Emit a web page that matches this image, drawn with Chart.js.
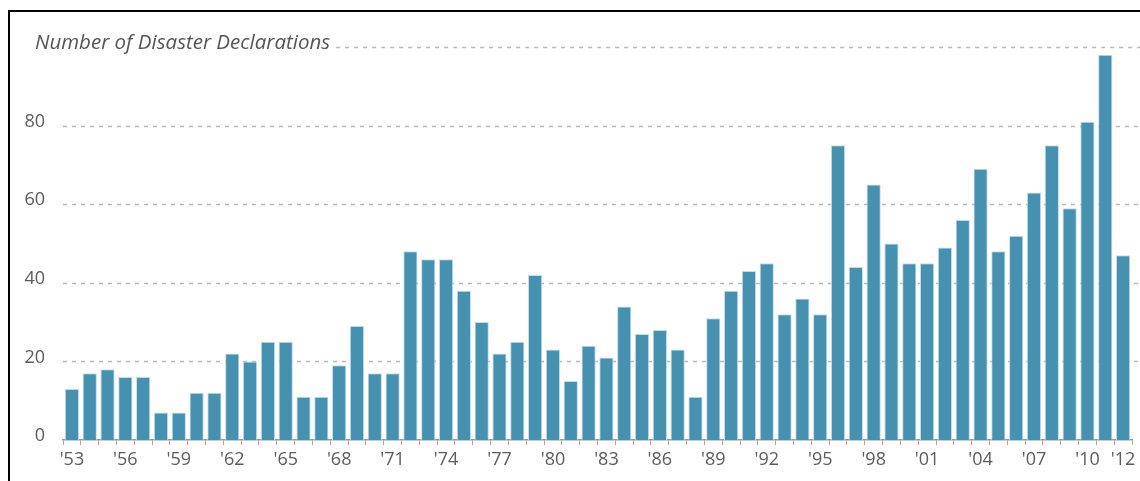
<!DOCTYPE html>
<html lang="en">
<head>
<meta charset="UTF-8">
<title>Number of Disaster Declarations</title>
<script src="https://cdn.jsdelivr.net/npm/chart.js@4.4.1/dist/chart.umd.min.js"></script>
<style>
    body {
        margin: 0;
        padding: 0;
        background: #fff;
    }
    .frame {
        position: absolute;
        left: 8px;
        top: 10px;
        right: 0;
        bottom: 0;
        border-left: 2px solid #000;
        border-top: 2px solid #000;
    }
    .wrap {
        position: absolute;
        left: 0;
        top: 0;
        width: 1140px;
        height: 481px;
    }
</style>
</head>
<body>
<div class="frame"></div>
<div class="wrap"><canvas id="chart" width="1140" height="481"></canvas></div>
<script>
// years 1953 - 2012
const years = [1953, 1954, 1955, 1956, 1957, 1958, 1959, 1960, 1961, 1962,
    1963, 1964, 1965, 1966, 1967, 1968, 1969, 1970, 1971, 1972,
    1973, 1974, 1975, 1976, 1977, 1978, 1979, 1980, 1981, 1982,
    1983, 1984, 1985, 1986, 1987, 1988, 1989, 1990, 1991, 1992,
    1993, 1994, 1995, 1996, 1997, 1998, 1999, 2000, 2001, 2002,
    2003, 2004, 2005, 2006, 2007, 2008, 2009, 2010, 2011, 2012];

const declarations = [13, 17, 18, 16, 16, 7, 7, 12, 12, 22,
    20, 25, 25, 11, 11, 19, 29, 17, 17, 48,
    46, 46, 38, 30, 22, 25, 42, 23, 15, 24,
    21, 34, 27, 28, 23, 11, 31, 38, 43, 45,
    32, 36, 32, 75, 44, 65, 50, 45, 45, 49,
    56, 69, 48, 52, 63, 75, 59, 81, 98, 47];

// years that get a label under the axis
const labelledYears = [1953, 1956, 1959, 1962, 1965, 1968, 1971, 1974, 1977, 1980,
    1983, 1986, 1989, 1992, 1995, 1998, 2001, 2004, 2007, 2010, 2012];

const yTicks = [0, 20, 40, 60, 80, 100];
const yTitle = 'Number of Disaster Declarations';

const tickFont = { family: "'Open Sans', sans-serif", size: 18, weight: '400' };

// dashed grid lines run to the right edge, the top one starts after the title
const gridAndTitle = {
    id: 'gridAndTitle',
    beforeDatasetsDraw(chart) {
        const ctx = chart.ctx;
        const y = chart.scales.y;
        const left = chart.chartArea.left;

        // title, sized to the original width
        ctx.save();
        let size = 19;
        ctx.font = "italic 400 " + size + "px 'Open Sans', sans-serif";
        const w = ctx.measureText(yTitle).width;
        size = size * 295 / w;
        ctx.font = "italic 400 " + size.toFixed(1) + "px 'Open Sans', sans-serif";
        ctx.fillStyle = '#555';
        ctx.textBaseline = 'alphabetic';
        const topY = y.getPixelForValue(100);
        ctx.fillText(yTitle, 35, topY + 2);
        const titleEnd = 35 + ctx.measureText(yTitle).width + 6;

        ctx.strokeStyle = '#b8b8b8';
        ctx.lineWidth = 1.5;
        ctx.setLineDash([4, 5]);
        yTicks.forEach(v => {
            if (v === 0) return;
            const py = Math.round(y.getPixelForValue(v)) + 0.5;
            ctx.beginPath();
            ctx.moveTo(v === 100 ? titleEnd : left, py);
            ctx.lineTo(chart.width, py);
            ctx.stroke();
        });
        ctx.restore();
    }
};

new Chart(document.getElementById('chart'), {
    type: 'bar',
    data: {
        labels: years,
        datasets: [{
            data: declarations,
            backgroundColor: '#4690b0',
            borderColor: '#c3dde8',
            borderWidth: 1,
            barPercentage: 0.8,
            categoryPercentage: 1.0
        }]
    },
    options: {
        responsive: false,
        animation: false,
        layout: {
            padding: { top: 47, right: 8, bottom: 0, left: 0 }
        },
        plugins: {
            legend: { display: false },
            tooltip: { enabled: false }
        },
        scales: {
            x: {
                offset: true,
                grid: {
                    offset: true,
                    drawOnChartArea: false,
                    drawTicks: true,
                    tickLength: 5,
                    color: '#aaa'
                },
                border: { display: true, color: '#999', width: 1.5 },
                ticks: {
                    autoSkip: false,
                    maxRotation: 0,
                    padding: 4,
                    color: '#5c5c5c',
                    font: tickFont,
                    callback: function (value, index) {
                        const yr = years[index];
                        if (labelledYears.indexOf(yr) < 0) return '';
                        return "'" + String(yr).slice(2);
                    }
                },
                afterFit: function (scale) {
                    scale.height = 41;
                }
            },
            y: {
                min: 0,
                max: 100,
                grid: { display: false },
                border: { display: false },
                afterBuildTicks: function (scale) {
                    scale.ticks = yTicks.map(v => ({ value: v }));
                },
                ticks: {
                    color: '#5c5c5c',
                    font: tickFont,
                    padding: 10,
                    labelOffset: -4,
                    callback: function (value) {
                        return value === 100 ? '' : value;
                    }
                },
                afterFit: function (scale) {
                    scale.width = 63;
                }
            }
        }
    },
    plugins: [gridAndTitle]
});
</script>
</body>
</html>
